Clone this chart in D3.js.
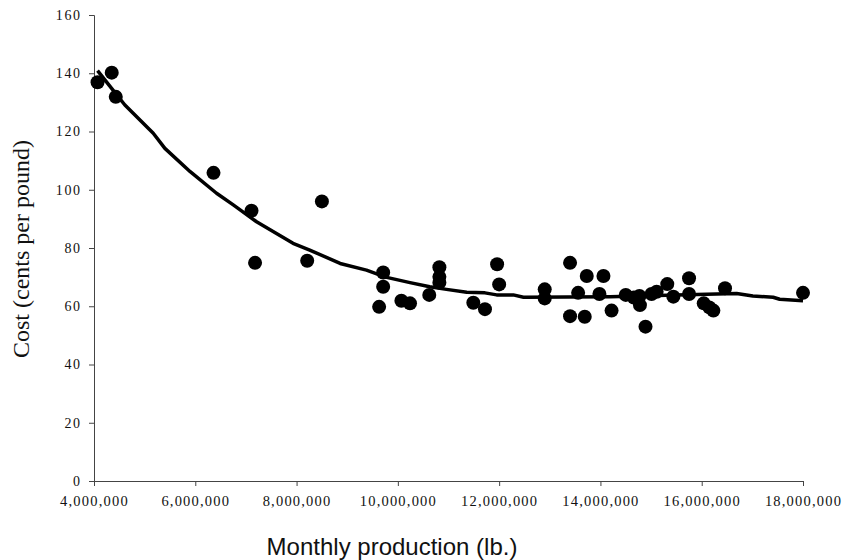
<!DOCTYPE html>
<html><head><meta charset="utf-8">
<script src="https://cdn.jsdelivr.net/npm/d3@7"></script>
<style>body{margin:0;background:#fff}</style>
</head><body>
<svg id="c" width="843" height="560"></svg>
<script>
// Monthly production (lb.) and cost (cents per pound)
const production = [4070000,4350000,4430000,6360000,7110000,7180000,8210000,8500000,9630000,9710000,9710000,10070000,10240000,10620000,10820000,10820000,10820000,11490000,11720000,11960000,12000000,12900000,12900000,13400000,13400000,13560000,13690000,13730000,13980000,14060000,14220000,14500000,14660000,14770000,14780000,14890000,15010000,15110000,15320000,15440000,15750000,15750000,16040000,16150000,16230000,16460000,18000000];
const cost = [136.9,140.2,131.9,105.8,92.8,74.9,75.6,96.0,59.8,66.7,71.6,61.9,61.0,63.9,68.1,70.1,73.4,61.2,59.0,74.4,67.5,65.8,62.7,74.9,56.6,64.6,56.4,70.4,64.2,70.4,58.5,63.9,63.0,63.5,60.4,53.0,64.2,65.0,67.6,63.3,69.6,64.2,61.0,59.6,58.5,66.2,64.6];
// smoothed trend line
const trendX = [4070000,4430000,4610000,5170000,5400000,5900000,6420000,6750000,7210000,7930000,8260000,8860000,9380000,9650000,9780000,10240000,10630000,10960000,11360000,11720000,11950000,12280000,12480000,14190000,15500000,16690000,17010000,17410000,17540000,18000000];
const trendY = [140.9,133.0,129.1,119.4,114.2,106.2,98.8,94.8,89.0,81.6,79.3,74.7,72.4,70.7,69.9,68.1,66.7,65.8,64.8,64.6,63.9,63.9,63.1,63.3,63.9,64.4,63.5,63.1,62.4,61.9];
const xTicks = [4000000,6000000,8000000,10000000,12000000,14000000,16000000,18000000];
const yTicks = [0,20,40,60,80,100,120,140,160];

const svg = d3.select("#c");
const x = d3.scaleLinear().domain([4000000,18000000]).range([94,803]);
const y = d3.scaleLinear().domain([0,160]).range([481,15]);
const serif = "'Liberation Serif','Times New Roman',serif";
const fmt = d3.format(",");

// y axis
const ya = svg.append("g").attr("transform","translate(94,0)")
  .call(d3.axisLeft(y).tickValues(yTicks).tickSize(5).tickPadding(9).tickFormat(d=>d));
ya.select(".domain").attr("stroke","#444");
ya.selectAll(".tick line").attr("stroke","#444");
ya.selectAll("text").attr("font-family",serif).attr("font-size","14px").attr("fill","#111")
  .attr("letter-spacing","1.6px").attr("dx","1.6px");

// x axis
const xa = svg.append("g").attr("transform","translate(0,481)")
  .call(d3.axisBottom(x).tickValues(xTicks).tickSize(5).tickPadding(10).tickFormat(fmt));
xa.select(".domain").attr("stroke","#444");
xa.selectAll(".tick line").attr("stroke","#444");
xa.selectAll("text").attr("font-family",serif).attr("font-size","14.5px").attr("fill","#111")
  .attr("letter-spacing","1.2px");

// trend line
const line = d3.line().x((d,i)=>x(trendX[i])).y((d,i)=>y(trendY[i]));
svg.append("path").datum(trendY).attr("d",line).attr("fill","none")
  .attr("stroke","#000").attr("stroke-width",3.5).attr("stroke-linejoin","round");

// points
svg.append("g").selectAll("circle").data(cost).join("circle")
  .attr("cx",(d,i)=>x(production[i])).attr("cy",d=>y(d)).attr("r",7).attr("fill","#000");

// titles
svg.append("text").attr("transform","translate(28.5,249) rotate(-90)")
  .attr("text-anchor","middle").attr("font-family",serif).attr("font-size","24px")
  .attr("fill","#111").text("Cost (cents per pound)");
svg.append("text").attr("x",392).attr("y",555).attr("text-anchor","middle")
  .attr("font-family","'Liberation Sans',Arial,sans-serif").attr("font-size","24px")
  .attr("fill","#111").text("Monthly production (lb.)");
</script>
</body></html>
